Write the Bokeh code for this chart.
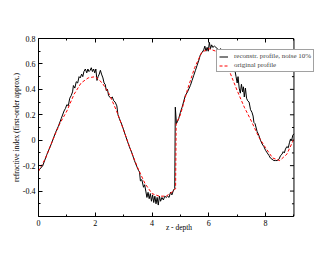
import numpy as np
from bokeh.plotting import figure
from bokeh.models import Range1d, LinearAxis, FixedTicker, Legend, LegendItem, Span
from bokeh.embed import file_html
from bokeh.resources import INLINE

# original profile (red dashed)
orig_x = [0.0, 0.25, 0.5, 0.75, 1.0, 1.25, 1.5, 1.75, 2.0, 2.25, 2.5, 2.75, 3.0, 3.25, 3.5,
          3.75, 4.0, 4.25, 4.5, 4.75, 4.83, 4.85, 5.0, 5.25, 5.5, 5.75, 6.0, 6.25, 6.5, 6.75,
          7.0, 7.25, 7.5, 7.75, 8.0, 8.25, 8.5, 8.75, 9.0]
orig_y = [-0.245, -0.14, 0.0, 0.13, 0.23, 0.36, 0.45, 0.49, 0.50, 0.45, 0.36, 0.23, 0.08, -0.08, -0.22,
          -0.34, -0.42, -0.44, -0.44, -0.40, -0.38, 0.13, 0.20, 0.40, 0.57, 0.69, 0.72, 0.70, 0.63, 0.53,
          0.39, 0.26, 0.15, 0.03, -0.06, -0.14, -0.16, -0.11, 0.01]

# reconstructed profile, noise 10% (black)
rec_x = [0.0, 0.15, 0.3, 0.45, 0.6, 0.7, 0.8, 0.9, 0.95, 1.0, 1.05, 1.1, 1.15, 1.2, 1.23, 1.28, 1.33,
         1.38, 1.43, 1.47, 1.52, 1.56, 1.6, 1.65, 1.7, 1.74, 1.78, 1.82, 1.86, 1.9, 1.94, 1.98, 2.02,
         2.06, 2.1, 2.14, 2.18, 2.22, 2.27, 2.31, 2.35, 2.39, 2.43, 2.47, 2.51, 2.55, 2.6, 2.65, 2.7,
         2.76, 2.8, 2.85, 2.94, 3.06, 3.12, 3.2, 3.29, 3.38, 3.47, 3.53, 3.56, 3.59, 3.64, 3.7, 3.74,
         3.78, 3.82, 3.86, 3.9, 3.94, 3.98, 4.02, 4.06, 4.1, 4.14, 4.18, 4.22, 4.26, 4.3, 4.35, 4.4,
         4.45, 4.5, 4.55, 4.6, 4.65, 4.7, 4.76, 4.8, 4.82, 4.86, 4.9, 4.94, 5.0, 5.06, 5.17, 5.25,
         5.35, 5.41, 5.47, 5.53, 5.59, 5.65, 5.7, 5.76, 5.82, 5.86, 5.9, 5.94, 5.98, 6.02, 6.06, 6.1,
         6.14, 6.2, 6.25, 6.3, 6.36, 6.42, 6.47, 6.52, 6.58, 6.62, 6.7, 6.78, 6.85, 6.88, 6.92, 6.96,
         7.0, 7.03, 7.07, 7.11, 7.15, 7.19, 7.22, 7.25, 7.29, 7.33, 7.37, 7.42, 7.47, 7.52, 7.56, 7.59,
         7.63, 7.7, 7.76, 7.82, 7.88, 7.94, 8.0, 8.06, 8.12, 8.17, 8.23, 8.29, 8.35, 8.41, 8.47, 8.53,
         8.58, 8.62, 8.66, 8.7, 8.75, 8.8, 8.84, 8.88, 8.92, 8.96, 9.0]
rec_y = [-0.24, -0.20, -0.11, -0.03, 0.06, 0.11, 0.17, 0.23, 0.25, 0.28, 0.27, 0.33, 0.35, 0.38, 0.43, 0.41, 0.46,
         0.45, 0.50, 0.49, 0.52, 0.50, 0.54, 0.56, 0.53, 0.56, 0.54, 0.55, 0.57, 0.54, 0.56, 0.53, 0.56,
         0.47, 0.50, 0.52, 0.55, 0.52, 0.49, 0.45, 0.44, 0.39, 0.40, 0.35, 0.34, 0.33, 0.34, 0.31, 0.30,
         0.27, 0.20, 0.17, 0.12, 0.04, 0.0, -0.05, -0.10, -0.16, -0.21, -0.24, -0.25, -0.32, -0.31, -0.37, -0.35,
         -0.40, -0.45, -0.41, -0.46, -0.42, -0.48, -0.43, -0.49, -0.44, -0.50, -0.45, -0.51, -0.44, -0.48, -0.45, -0.47,
         -0.44, -0.45, -0.44, -0.45, -0.41, -0.43, -0.39, -0.38, 0.26, 0.13, 0.15, 0.17, 0.22, 0.26, 0.35, 0.38,
         0.43, 0.47, 0.51, 0.55, 0.59, 0.63, 0.67, 0.69, 0.71, 0.74, 0.70, 0.73, 0.70, 0.77, 0.72, 0.75,
         0.73, 0.74, 0.73, 0.72, 0.71, 0.72, 0.70, 0.71, 0.70, 0.66, 0.63, 0.60, 0.60, 0.59, 0.55, 0.50,
         0.45, 0.50, 0.41, 0.37, 0.44, 0.38, 0.42, 0.34, 0.41, 0.33, 0.31, 0.30, 0.24, 0.22, 0.19, 0.14,
         0.13, 0.07, 0.04, 0.00, -0.03, -0.05, -0.08, -0.10, -0.12, -0.14, -0.15, -0.16, -0.16, -0.16, -0.15, -0.12,
         -0.11, -0.09, -0.10, -0.07, -0.05, -0.06, -0.02, 0.01, 0.00, 0.04, 0.05]

x_min, x_max = 0, 9
y_min, y_max = -0.6, 0.8
x_major = [0, 2, 4, 6, 8]
x_minor = [1, 3, 5, 7, 9]
y_major = [-0.4, -0.2, 0.0, 0.2, 0.4, 0.6, 0.8]
y_minor = [-0.6, -0.5, -0.3, -0.1, 0.1, 0.3, 0.5, 0.7]
y_labels = {-0.4: "-0.4", -0.2: "-0.2", 0.0: "0", 0.2: "0.2", 0.4: "0.4", 0.6: "0.6", 0.8: "0.8"}
x_labels = {0: "0", 2: "2", 4: "4", 6: "6", 8: "8"}

FONT = "Liberation Serif"

# frame extends a little past x=9 so the legend may overhang the right edge of the box
p = figure(width=322, height=247, x_range=Range1d(x_min, 9.9), y_range=Range1d(y_min, y_max),
           output_backend="svg", toolbar_location=None,
           min_border_left=38, min_border_right=3, min_border_top=38, min_border_bottom=31,
           x_axis_label="z - depth", y_axis_label="refractive index (first-order approx.)")
p.xgrid.visible = False
p.ygrid.visible = False
p.outline_line_color = None
p.background_fill_color = "white"
p.border_fill_color = "white"

xt = FixedTicker(ticks=x_major, minor_ticks=x_minor)
yt = FixedTicker(ticks=y_major, minor_ticks=y_minor)

top_axis = LinearAxis()
p.add_layout(top_axis, "above")

for ax in p.xaxis:
    ax.ticker = xt
    ax.major_label_overrides = x_labels
    ax.bounds = (x_min, x_max)
for ax in p.yaxis:
    ax.ticker = yt
    ax.major_label_overrides = y_labels

for ax in p.axis:
    ax.axis_line_color = "black"
    ax.axis_line_width = 1
    ax.major_tick_in = 4
    ax.major_tick_out = 0
    ax.minor_tick_in = 2
    ax.minor_tick_out = 0
    ax.major_tick_line_color = "black"
    ax.minor_tick_line_color = "black"
    ax.major_label_text_font = FONT
    ax.major_label_text_font_size = "8px"
    ax.major_label_text_color = "black"
    ax.major_label_standoff = 3
    ax.axis_label_text_font = FONT
    ax.axis_label_text_font_size = "7.5px"
    ax.axis_label_text_font_style = "normal"
    ax.axis_label_text_color = "black"
    ax.axis_label_standoff = 3

top_axis.major_label_text_color = None
p.below[0].axis_label_standoff = -6
p.left[0].axis_label_standoff = -1

# right edge of the box at x = 9, with inward ticks
p.add_layout(Span(location=x_max, dimension="height", line_color="black", line_width=1))
p.ray(x=[x_max] * len(y_major), y=y_major, length=4, length_units="screen", angle=np.pi,
      line_color="black", line_width=1)
p.ray(x=[x_max] * len(y_minor), y=y_minor, length=2, length_units="screen", angle=np.pi,
      line_color="black", line_width=1)

r1 = p.line(rec_x, rec_y, line_color="black", line_width=1)
r2 = p.line(orig_x, orig_y, line_color="red", line_width=1, line_dash="3 2")

legend = Legend(items=[LegendItem(label="reconstr. profile, noise 10%", renderers=[r1]),
                       LegendItem(label="original profile", renderers=[r2])],
                location=(178, 144))
legend.border_line_color = "#444444"
legend.border_line_width = 1
legend.background_fill_color = "white"
legend.background_fill_alpha = 1
legend.label_text_font = FONT
legend.label_text_font_size = "7px"
legend.glyph_width = 9
legend.glyph_height = 7
legend.label_height = 7
legend.label_standoff = 6
legend.padding = 2
legend.spacing = 1
legend.margin = 0
p.add_layout(legend)

open("out.html", "w").write(file_html(p, INLINE))
